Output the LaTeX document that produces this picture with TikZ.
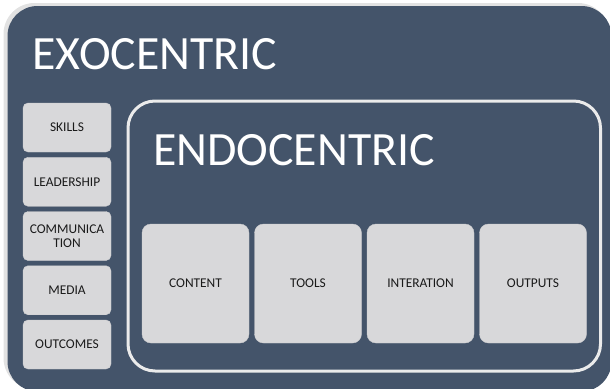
\documentclass[tikz,border=0pt]{standalone}
\usepackage{fontspec}
\setmainfont{Carlito}
\definecolor{slate}{HTML}{44546A}
\definecolor{frame}{HTML}{E2E2E2}
\definecolor{innerframe}{HTML}{EBEBEB}
\definecolor{boxfill}{HTML}{D8D8DA}
\definecolor{boxtext}{HTML}{1A1A1A}
\tikzset{
  shadowbox/.style={fill=frame, rounded corners=31pt},
  outerbox/.style={fill=slate, rounded corners=30pt},
  innerbox/.style={draw=innerframe, line width=3pt, rounded corners=27pt},
  title/.style={anchor=base west, text=white, font=\fontsize{47.8}{50}\selectfont, inner sep=0pt},
  sidebox/.style={fill=boxfill, draw=boxfill!95!black, line width=0.4pt, rounded corners=5pt,
    minimum width=88pt, minimum height=49pt, inner sep=0pt, text=boxtext,
    font=\fontsize{13.4}{14.5}\selectfont, align=center},
  tilebox/.style={fill=boxfill, draw=boxfill!95!black, line width=0.4pt, rounded corners=9pt,
    minimum width=107pt, minimum height=119pt, inner sep=0pt, text=boxtext,
    font=\fontsize{13.4}{14.5}\selectfont, align=center}
}
\begin{document}
\begin{tikzpicture}[x=1pt,y=-1pt]
\useasboundingbox (0,0) rectangle (610,388);
\clip (0,0) rectangle (610,388);
\path[shadowbox] (3.5,3) rectangle (609,389);
\path[outerbox] (7.5,6) rectangle (611.5,391.5);
\node[title] (exo) at (32,69) {EXOCENTRIC};
\path[innerbox] (128,101) rectangle (600.5,371);
\node[title] (endo) at (153,165) {ENDOCENTRIC};
% side boxes
\node[sidebox] (skills) at (67,127.5) {SKILLS};
\node[sidebox] (lead) at (67,181.75) {LEADERSHIP};
\node[sidebox] (comm) at (67,236) {COMMUNICA\\TION};
\node[sidebox] (media) at (67,290.25) {MEDIA};
\node[sidebox] (outc) at (67,344.5) {OUTCOMES};
% tiles
\node[tilebox] (content) at (195.5,283.5) {CONTENT};
\node[tilebox] (tools) at (308,283.5) {TOOLS};
\node[tilebox] (inter) at (420.5,283.5) {INTERATION};
\node[tilebox] (outp) at (533,283.5) {OUTPUTS};
\end{tikzpicture}
\end{document}
